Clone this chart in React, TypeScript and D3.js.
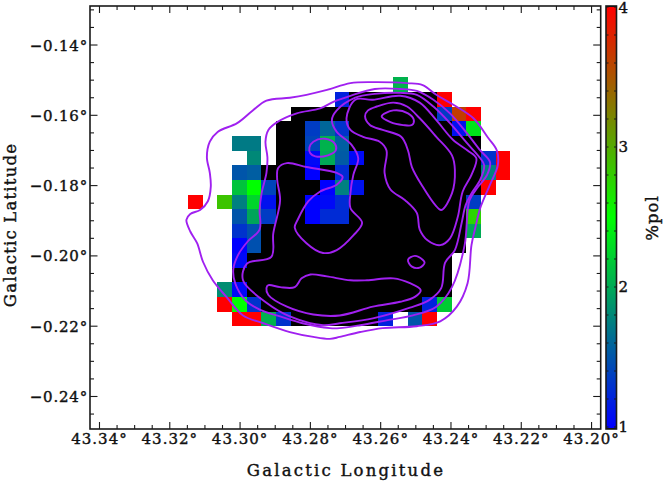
import React from "react";
import * as d3 from "d3";

// Tick values
const lonTicks = [43.34, 43.32, 43.3, 43.28, 43.26, 43.24, 43.22, 43.2];
const latTicks = [-0.14, -0.16, -0.18, -0.2, -0.22, -0.24];
const barTicks = [1, 2, 3, 4];

// %pol map: rows from north to south, columns from east to west. 0 = below scale, _ = no data
const _ = null;
const row00 = [_,_,_,_,_,_,_,_,_,_,_,_,_,_,2.05,_,_,_,_,_,_,_];
const row01 = [_,_,_,_,_,_,_,_,_,_,1.2,0,0,0,0,0,0,4,_,_,_,_];
const row02 = [_,_,_,_,_,_,_,0,0,0,0,0,0,0,0,0,0,1.35,3.65,4,_,_];
const row03 = [_,_,_,_,_,_,0,0,1.35,1.6,1.3,0,0,0,0,0,0,0,1.1,2.35,_,_];
const row04 = [_,_,_,1.72,1.72,_,0,0,1.4,2.05,1.55,0,0,0,0,0,0,0,0,0,_,_];
const row05 = [_,_,_,_,1.8,_,0,0,1.05,2.0,1.53,1.05,0,0,0,0,0,0,0,0,1.3,4];
const row06 = [_,_,_,1.5,1.55,0,0,0,1.0,0,1.25,0,0,0,0,0,0,0,0,0,1.75,4];
const row07 = [_,_,_,2.15,2.5,1.4,0,0,0,1.0,1.75,1.1,0,0,0,0,0,0,0,0,4,_];
const row08 = [4,_,2.85,1.75,2.25,1.1,0,0,1.0,1.05,1.25,0,0,0,0,0,0,0,0,1.35,_,_];
const row09 = [_,_,_,1.5,1.97,1.35,0,0,1.0,1.25,1.25,0,0,0,0,0,0,0,0,2.75,_,_];
const row10 = [_,_,_,1.3,1.47,0,0,0,0,0,0,0,0,0,0,0,0,0,0,2.0,_,_];
const row11 = [_,_,_,1.0,1.47,0,0,0,0,0,0,0,0,0,0,0,0,0,0,_,_,_];
const row12 = [_,_,_,1.05,0,0,0,0,0,0,0,0,0,0,0,0,0,0,_,_,_,_];
const row13 = [_,_,_,0,0,0,0,0,0,0,0,0,0,0,0,0,0,0,_,_,_,_];
const row14 = [_,_,1.83,1.05,0,0,0,0,0,0,0,0,0,0,0,0,0,0,_,_,_,_];
const row15 = [_,_,4,2.5,1.3,0,0,0,0,0,0,0,0,0,0,0,1.2,2.2,_,_,_,_];
const row16 = [_,_,_,4,4,2.05,1.3,0,0,0,0,0,0,1.2,_,1.5,4,_,_,_,_,_];
const polRows = [row00,row01,row02,row03,row04,row05,row06,row07,row08,row09,row10,row11,row12,row13,row14,row15,row16];

// Contours: offsets in arcsec from (43.26, -0.18), +x = decreasing longitude, +y = decreasing latitude
type P = [number, number];
const contourA: P[] = [[-31,-105],[-8,-106],[27,-105],[43,-103],[57,-93],[74,-83],[95,-69],[110,-49],[119,-36],[120,-21],[112,-1],[102,23],[97,43],[93,61],[89,100],[78,124],[61,139],[37,144],[2,146],[-21,150],[-42,155],[-52,157],[-69,155],[-93,150],[-120,141],[-141,133],[-158,114],[-172,97],[-182,78],[-188,59],[-195,47],[-199,35],[-195,29],[-185,25],[-177,16],[-174,1],[-175,-13],[-178,-29],[-175,-45],[-167,-55],[-147,-64],[-131,-77],[-117,-87],[-93,-90],[-76,-93],[-55,-98]];
const contourB: P[] = [[-31,-92],[-6,-99],[20,-99],[37,-97],[54,-88],[71,-74],[88,-54],[102,-36],[112,-24],[109,-11],[100,1],[91,15],[86,61],[73,104],[57,124],[33,133],[6,138],[-21,143],[-42,146],[-52,146],[-80,141],[-103,134],[-124,127],[-139,117],[-149,100],[-151,86],[-146,71],[-136,57],[-124,45],[-124,25],[-122,8],[-117,-13],[-116,-29],[-118,-45],[-115,-57],[-106,-65],[-86,-74],[-62,-79],[-48,-86]];
const contourC: P[] = [[-6,-94],[20,-95],[37,-93],[54,-81],[71,-64],[88,-44],[102,-28],[106,-21],[102,-6],[93,8],[87,20],[83,38],[76,66],[66,79],[62,105],[50,117],[30,125],[-8,136],[-42,141],[-59,143],[-93,134],[-117,120],[-141,97],[-137,80],[-112,73],[-110,49],[-103,15],[-106,-6],[-105,-18],[-96,-23],[-76,-19],[-45,-13],[-39,-9],[-45,-1],[-62,6],[-74,16],[-85,35],[-88,43],[-76,59],[-59,69],[-45,66],[-28,51],[-19,38],[-31,23],[-31,8],[-28,-11],[-23,-28],[-30,-42],[-45,-55],[-50,-67],[-45,-77],[-26,-90]];
const contourH: P[] = [[-26,-88],[-8,-88],[20,-92],[40,-85],[57,-67],[74,-47],[89,-36],[98,-28],[93,-11],[84,6],[79,32],[71,54],[61,61],[48,56],[40,45],[37,28],[25,15],[10,4],[4,-13],[6,-36],[-1,-45],[-18,-50],[-31,-57],[-35,-69]];
const contourG: P[] = [[-16,-71],[-13,-77],[-4,-81],[13,-85],[27,-81],[40,-69],[57,-50],[73,-31],[76,-16],[73,8],[62,25],[56,20],[43,1],[32,-19],[28,-36],[21,-50],[2,-57],[-11,-62]];
const contourF: P[] = [[1,-71],[13,-77],[28,-74],[34,-67],[32,-62],[23,-62],[10,-65]];
const contourK: P[] = [[-117,105],[-115,102],[-103,104],[-88,104],[-81,95],[-72,91],[-55,93],[-31,97],[-14,97],[13,95],[30,100],[41,107],[35,114],[20,119],[-8,124],[-42,133],[-69,132],[-96,124],[-115,112]];
const contourE1: P[] = [[-73,-39],[-69,-45],[-57,-48],[-47,-43],[-46,-36],[-54,-31],[-67,-30],[-72,-33]];
const contourE2: P[] = [[28,76],[35,72],[43,76],[45,79],[40,84],[32,83]];
const contours = [contourA, contourB, contourC, contourH, contourG, contourF, contourK, contourE1, contourE2];

const REF_LON = 43.26;
const REF_LAT = -0.18;
const GRID_LON = 43.3148;
const GRID_LAT = -0.1492;
const GRID_STEP = 15 / 3600;

const x = d3.scaleLinear().domain([43.3427, 43.1974]).range([90, 600.7]);
const y = d3.scaleLinear().domain([-0.1289, -0.24925]).range([6, 429]);
const barY = d3.scaleLinear().domain([1, 4]).range([427, 7]);
const color = d3.scaleLinear<string>().domain([1, 2.5, 4]).range(["#0000ff", "#00ff00", "#ff0000"]);

const FONT = "'DejaVu Serif', serif";
const INK = "#1a1a1a";
const TEXT_STROKE = { stroke: "#111", strokeWidth: 0.4 };

const line = d3
  .line<P>()
  .x((p) => x(REF_LON - p[0] / 3600))
  .y((p) => y(REF_LAT - p[1] / 3600))
  .curve(d3.curveCatmullRomClosed.alpha(0.5));

const lonMinor = d3.range(0, 30).map((i) => 43.345 - i * 0.005).filter((v) => v < 43.3427 && v > 43.1974);
const latMinor = d3.range(0, 30).map((i) => -0.13 - i * 0.005).filter((v) => v > -0.24925 && v < -0.1289);
const isMajor = (v: number) => Math.abs(v * 50 - Math.round(v * 50)) < 1e-6;
const barMinor = d3.range(0, 16).map((i) => 1 + i * 0.2);
const barSteps = d3.range(0, 210).map((i) => 1 + (i * 3) / 210);

export default function App() {
  const [x0, x1] = x.range();
  const [y0, y1] = y.range();
  return (
    <svg
      width={664}
      height={483}
      style={{ position: "absolute", left: 0, top: 0, background: "#fff" }}
      fontFamily={FONT}
      fill="#111"
    >
      {polRows.map((r, j) =>
        r.map((v, i) =>
          v === null ? null : (
            <rect
              key={`${j}-${i}`}
              x={x(GRID_LON - i * GRID_STEP)}
              y={y(GRID_LAT - j * GRID_STEP)}
              width={x(GRID_LON - (i + 1) * GRID_STEP) - x(GRID_LON - i * GRID_STEP)}
              height={y(GRID_LAT - (j + 1) * GRID_STEP) - y(GRID_LAT - j * GRID_STEP)}
              fill={v < 1 ? "#000" : color(v)}
              shapeRendering="crispEdges"
            />
          )
        )
      )}
      {contours.map((c, i) => (
        <path key={i} d={line(c) ?? ""} fill="none" stroke="#a020f0" strokeWidth={1.9} />
      ))}

      {/* frame + ticks */}
      <rect x={x0} y={y0} width={x1 - x0} height={y1 - y0} fill="none" stroke={INK} strokeWidth={1.6} />
      {lonMinor.map((v) => {
        const len = isMajor(v) ? 7 : 4;
        return (
          <g key={v} stroke={INK} strokeWidth={1.1}>
            <line x1={x(v)} x2={x(v)} y1={y0} y2={y0 + len} />
            <line x1={x(v)} x2={x(v)} y1={y1} y2={y1 - len} />
          </g>
        );
      })}
      {latMinor.map((v) => {
        const len = isMajor(v) ? 7.5 : 4;
        return (
          <g key={v} stroke={INK} strokeWidth={1.1}>
            <line y1={y(v)} y2={y(v)} x1={x0} x2={x0 + len} />
            <line y1={y(v)} y2={y(v)} x1={x1} x2={x1 - len} />
          </g>
        );
      })}
      {lonTicks.map((v) => (
        <text key={v} x={x(v)} y={444} textAnchor="middle" fontSize={15} letterSpacing={1} {...TEXT_STROKE}>
          {v.toFixed(2)}°
        </text>
      ))}
      {latTicks.map((v) => (
        <text key={v} x={88} y={y(v) + 5.5} textAnchor="end" fontSize={15} letterSpacing={0.8} {...TEXT_STROKE}>
          {"\u2212" + Math.abs(v).toFixed(2)}°
        </text>
      ))}
      <text x={346} y={476} textAnchor="middle" fontSize={16.5} letterSpacing={2.2} {...TEXT_STROKE}>
        Galactic Longitude
      </text>
      <text transform="translate(16,225) rotate(-90)" textAnchor="middle" fontSize={16.5} letterSpacing={1.2} {...TEXT_STROKE}>
        Galactic Latitude
      </text>

      {/* colour bar */}
      <rect x={606} y={6} width={10.5} height={423} fill="#000" shapeRendering="crispEdges" />
      {barSteps.map((v) => (
        <rect
          key={v}
          x={606}
          y={barY(v + 3 / 210)}
          width={10.5}
          height={barY(v) - barY(v + 3 / 210) + 0.5}
          fill={color(v)}
          shapeRendering="crispEdges"
        />
      ))}
      <rect x={606} y={6} width={10.5} height={423} fill="none" stroke={INK} strokeWidth={1.6} />
      {barMinor.map((v) => (
        <g key={v} stroke={INK} strokeWidth={1}>
          <line x1={606} x2={608.5} y1={barY(v)} y2={barY(v)} />
          <line x1={614} x2={616.5} y1={barY(v)} y2={barY(v)} />
        </g>
      ))}
      {barTicks.map((v) => (
        <text key={v} x={618.5} y={v === 4 ? 13 : barY(v) + 5} fontSize={15} {...TEXT_STROKE}>
          {v}
        </text>
      ))}
      <text transform="translate(658,218) rotate(-90)" textAnchor="middle" fontSize={16.5} letterSpacing={1} {...TEXT_STROKE}>
        %pol
      </text>
    </svg>
  );
}
